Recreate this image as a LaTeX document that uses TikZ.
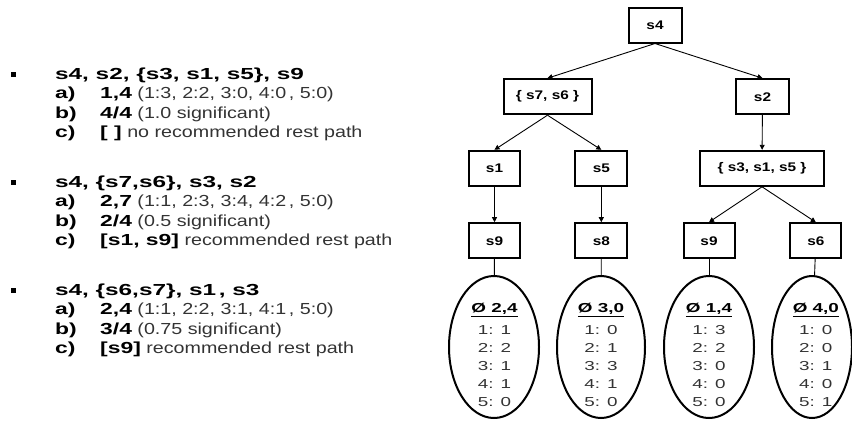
\documentclass[tikz,border=0pt]{standalone}
\usepackage{fontspec}
\setmainfont{Liberation Sans}[FakeStretch=1.23]
\newfontfamily\widebf{Liberation Sans}[FakeStretch=1.43]
\newfontfamily\hdfont{Liberation Sans}[FakeStretch=1.52]
\newfontfamily\ellfont{Liberation Sans}[FakeStretch=1.45]
\usetikzlibrary{arrows.meta,shapes.geometric}
\newcommand{\wb}[1]{{\widebf\bfseries\color{black}#1}}
\tikzset{
  tbox/.style={draw, line width=2pt, minimum height=35pt, inner sep=0pt,
    font=\bfseries\fontsize{12.5}{14}\selectfont},
  tell/.style={draw, ellipse, line width=2pt, minimum width=88pt, minimum height=142pt, inner sep=0pt},
  arr/.style={-{Triangle[length=5pt,width=5pt]}, line width=0.9pt},
  ln/.style={line width=0.9pt},
  etxt/.style={inner sep=0pt, anchor=base, font=\ellfont\fontsize{13}{14}\selectfont, text=black!80},
  ltxt/.style={inner sep=0pt, anchor=base west, font=\fontsize{16}{18}\selectfont, text=black!80},
  lhd/.style={ltxt, font=\widebf\bfseries\fontsize{16}{18}\selectfont, text=black},
  lhh/.style={ltxt, font=\hdfont\bfseries\fontsize{16}{18}\selectfont, text=black},
  blt/.style={fill=black, minimum size=5pt, inner sep=0pt}
}
\begin{document}
\begin{tikzpicture}[x=1pt,y=-1pt]
\useasboundingbox (0,0) rectangle (852,421);
\clip (0,0) rectangle (852,421);
% ---- left list ----
\foreach \g/\y in {1/74, 2/182, 3/290}{
  \node[blt] (b\g) at (13,\y) {};
}
\node[lhh] (h1) at (55,79.6) {s4, s2, \{s3, s1, s5\}, s9};
\node[lhd] (h1a) at (55,98.9) {a)};
\node[ltxt] (v1a) at (100,98.9) {\wb{1,4} (1:3, 2:2, 3:0, 4:0\,, 5:0)};
\node[lhd] (h1b) at (55,118.2) {b)};
\node[ltxt] (v1b) at (100,118.2) {\wb{4/4} (1.0 significant)};
\node[lhd] (h1c) at (55,137.5) {c)};
\node[ltxt] (v1c) at (100,137.5) {\wb{[ ]} no recommended rest path};

\node[lhh] (h2) at (55,187.6) {s4, \{s7,s6\}, s3, s2};
\node[lhd] (h2a) at (55,206.9) {a)};
\node[ltxt] (v2a) at (100,206.9) {\wb{2,7} (1:1, 2:3, 3:4, 4:2\,, 5:0)};
\node[lhd] (h2b) at (55,226.2) {b)};
\node[ltxt] (v2b) at (100,226.2) {\wb{2/4} (0.5 significant)};
\node[lhd] (h2c) at (55,245.5) {c)};
\node[ltxt] (v2c) at (100,245.5) {\wb{[s1, s9]} recommended rest path};

\node[lhh] (h3) at (55,295.6) {s4, \{s6,s7\}, s1\,, s3};
\node[lhd] (h3a) at (55,314.9) {a)};
\node[ltxt] (v3a) at (100,314.9) {\wb{2,4} (1:1, 2:2, 3:1, 4:1\,, 5:0)};
\node[lhd] (h3b) at (55,334.2) {b)};
\node[ltxt] (v3b) at (100,334.2) {\wb{3/4} (0.75 significant)};
\node[lhd] (h3c) at (55,353.5) {c)};
\node[ltxt] (v3c) at (100,353.5) {\wb{[s9]} recommended rest path};

% ---- tree ----
\node[tbox, minimum width=53pt] (s4) at (655,25) {s4};
\node[tbox, minimum width=88pt] (s76) at (547.5,96.7) {\{ s7, s6 \}};
\node[tbox, minimum width=53pt] (s2) at (762.5,96.7) {s2};
\node[tbox, minimum width=51pt] (s1) at (494.5,168.3) {s1};
\node[tbox, minimum width=52pt] (s5) at (601.3,168.3) {s5};
\node[tbox, minimum width=124pt] (s315) at (762,168.3) {\{ s3, s1, s5 \}};
\node[tbox, minimum width=51pt] (s9a) at (494.5,240.7) {s9};
\node[tbox, minimum width=52pt] (s8) at (601.3,240.7) {s8};
\node[tbox, minimum width=51pt] (s9b) at (709,240.7) {s9};
\node[tbox, minimum width=51pt] (s6) at (815.8,240.7) {s6};

\node[tell, minimum width=90pt] (e1) at (494,347) {};
\node[tell, minimum width=88pt] (e2) at (601,347) {};
\node[tell, minimum width=90pt] (e3) at (709,347) {};
\node[tell, minimum width=80pt] (e4) at (812,347) {};

\foreach \k/\cx/\hd/\va/\vb/\vc/\vd/\ve in
  {1/494.5/{2,4}/1/2/1/1/0, 2/601/{3,0}/0/1/3/1/0, 3/709/{1,4}/3/2/0/0/0, 4/815.8/{4,0}/0/0/1/0/1}{
  \node[etxt, font=\ellfont\bfseries\fontsize{13}{14}\selectfont, text=black] (t\k h) at (\cx,312.8) {\underline{Ø \hd}};
  \node[etxt] (t\k a) at (\cx,334) {1: \va};
  \node[etxt] (t\k b) at (\cx,352.1) {2: \vb};
  \node[etxt] (t\k c) at (\cx,370.2) {3: \vc};
  \node[etxt] (t\k d) at (\cx,388.3) {4: \vd};
  \node[etxt] (t\k e) at (\cx,406.4) {5: \ve};
}

\draw[arr] (s4.south) -- (s76.north);
\draw[arr] (s4.south) -- (s2.north);
\draw[arr] (s76.south) -- (s1.north);
\draw[arr] (s76.south) -- (s5.north);
\draw[arr] (s2) -- (s315);
\draw[arr] (s1) -- (s9a);
\draw[arr] (s5) -- (s8);
\draw[arr] (s315.south) -- (s9b.north);
\draw[arr] (s315.south) -- (s6.north);
\draw[ln] (s9a) -- (e1);
\draw[ln] (s8) -- (e2);
\draw[ln] (s9b) -- (e3);
\draw[ln] (s6) -- (e4);
\end{tikzpicture}
\end{document}
